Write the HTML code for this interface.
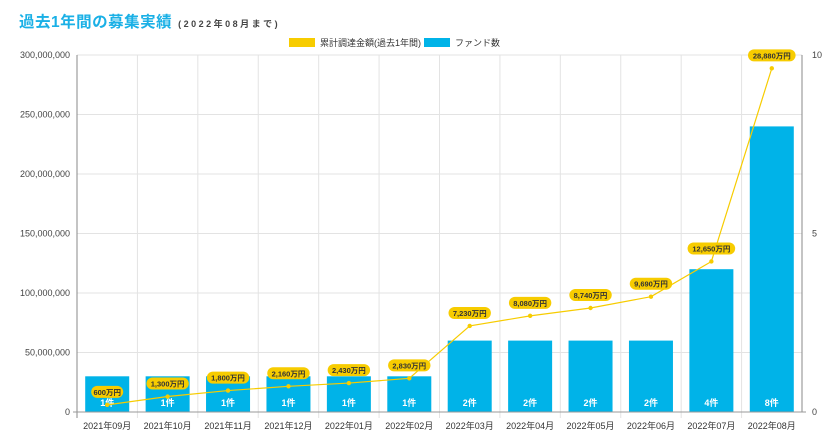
<!DOCTYPE html>
<html><head><meta charset="utf-8"><style>
body{margin:0;background:#fff;font-family:"Liberation Sans","Noto Sans CJK JP",sans-serif;}
svg text{font-family:"Liberation Sans","Noto Sans CJK JP",sans-serif;}
</style></head><body>
<svg width="840" height="440" xmlns="http://www.w3.org/2000/svg" id="chart">
<text x="19" y="27" font-size="15.5" font-weight="bold" fill="#1ab0e6" letter-spacing="0.5">過去1年間の募集実績<tspan font-size="9" fill="#444" letter-spacing="2.5" dx="6">(2022年08月まで)</tspan></text>
<g>
<rect x="289" y="38" width="26" height="9" fill="#f7cc00"/>
<text x="320" y="46" font-size="9" fill="#333">累計調達金額(過去1年間)</text>
<rect x="424" y="38" width="26" height="9" fill="#00b3e8"/>
<text x="455" y="46" font-size="9" fill="#333">ファンド数</text>
</g>
<g id="grid"></g><g id="bars"></g><g id="axes"></g><g id="line"></g>
</svg>
<script>
const categories=["2021年09月","2021年10月","2021年11月","2021年12月","2022年01月","2022年02月","2022年03月","2022年04月","2022年05月","2022年06月","2022年07月","2022年08月"];
const fundCounts=[1,1,1,1,1,1,2,2,2,2,4,8];
const cumulativeMan=[600,1300,1800,2160,2430,2830,7230,8080,8740,9690,12650,28880];
const leftTicks=[0,50000000,100000000,150000000,200000000,250000000,300000000];
const rightTicks=[0,5,10];
const NS="http://www.w3.org/2000/svg";
const L=77,R=802,T=55,B=412;
const bw=(R-L)/categories.length;
const xC=i=>L+bw*(i+0.5);
const yL=v=>B-(v/300000000)*(B-T);
const yR=v=>B-(v/10)*(B-T);
function mk(tag,attrs,parent){const e=document.createElementNS(NS,tag);for(const k in attrs)e.setAttribute(k,attrs[k]);document.getElementById(parent).appendChild(e);return e;}
leftTicks.forEach(t=>{
 const g=mk('line',{x1:L,x2:R,y1:yL(t),y2:yL(t),stroke:'#e3e3e3','stroke-width':1},'grid');
 
 
 const tk=mk('text',{x:L-7,y:yL(t)+3,'font-size':9,fill:'#444','text-anchor':'end'},'axes');
 tk.textContent=t.toLocaleString('en-US');
 
 
});
rightTicks.forEach(t=>{
 const tk=mk('text',{x:R+10,y:yR(t)+3,'font-size':9,fill:'#444'},'axes');
 tk.textContent=t;
 
 
});
for(let i=1;i<categories.length;i++){
 const v=mk('line',{x1:L+bw*i,x2:L+bw*i,y1:T,y2:B+6,stroke:'#e3e3e3'},'grid');
 
 
}
const ax1=mk('line',{x1:L,x2:L,y1:T,y2:B+6,stroke:'#888'},'axes');


const ax2=mk('line',{x1:R,x2:R,y1:T,y2:B,stroke:'#888'},'axes');


const ax3=mk('line',{x1:L-4,x2:R+4,y1:B,y2:B,stroke:'#999'},'axes');


categories.forEach((c,i)=>{
 const y=yR(fundCounts[i]);
 const b=mk('rect',{x:xC(i)-22,y:y,width:44,height:B-y,fill:'#00b3e8'},'bars');
 
 
 const bl=mk('text',{x:xC(i),y:B-6,'font-size':9,'font-weight':'bold',fill:'#fff','text-anchor':'middle'},'bars');
 bl.textContent=fundCounts[i]+'件';
 
 
 const xl=mk('text',{x:xC(i),y:B+17,'font-size':9,fill:'#333','text-anchor':'middle'},'axes');
 xl.textContent=c;
 
 
});
const pts=cumulativeMan.map((v,i)=>xC(i)+','+yL(v*10000)).join(' ');
const pl=mk('polyline',{points:pts,fill:'none',stroke:'#f7cc00','stroke-width':1.2},'line');


cumulativeMan.forEach((v,i)=>{
 const x=xC(i),y=yL(v*10000);
 const d=mk('circle',{cx:x,cy:y,r:2.2,fill:'#f7cc00'},'line');
 
 
 const txt=v.toLocaleString('en-US')+'万円';
 const w=txt.length*5.2+6;
 const p=mk('rect',{x:x-w/2,y:y-19,width:w,height:12,rx:6,fill:'#f7cc00'},'line');
 
 
 const t=mk('text',{x:x,y:y-10,'font-size':7.5,'font-weight':'bold',fill:'#333','text-anchor':'middle'},'line');
 t.textContent=txt;
 
 
});
</script>
</body></html>
